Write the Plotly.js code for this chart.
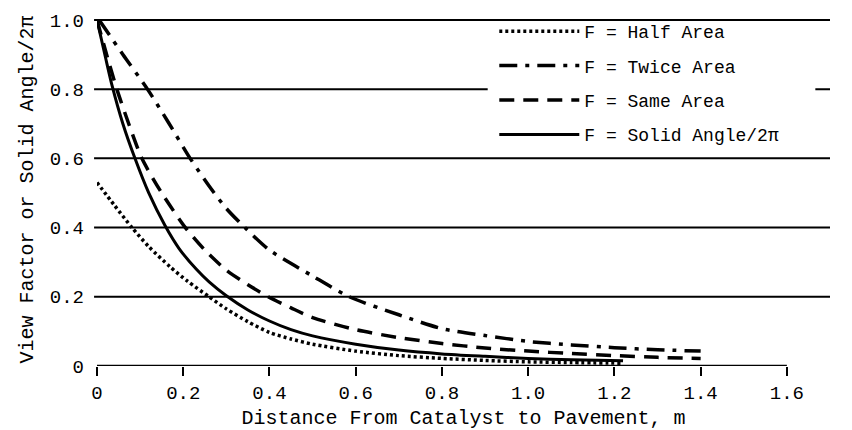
<!DOCTYPE html>
<html><head><meta charset="utf-8">
<script src="https://cdn.plot.ly/plotly-3.0.1.min.js"></script>
<style>html,body{margin:0;padding:0;background:#fff;} #chart{width:852px;height:430px;}</style>
</head><body><div id="chart"></div>
<script>
const seriesNames = ['F = Half Area', 'F = Twice Area', 'F = Same Area', 'F = Solid Angle/2\u03c0'];

const halfX  = [0, 0.04, 0.081, 0.12, 0.17, 0.21, 0.26, 0.30, 0.35, 0.40, 0.45, 0.50, 0.60, 0.70, 0.80, 0.90, 1.00, 1.10, 1.22];
const halfY  = [0.53, 0.465, 0.40, 0.345, 0.286, 0.245, 0.20, 0.165, 0.128, 0.097, 0.078, 0.063, 0.043, 0.03, 0.022, 0.016, 0.012, 0.01, 0.008];

const twiceX = [0.005, 0.06, 0.117, 0.165, 0.216, 0.26, 0.30, 0.343, 0.40, 0.50, 0.585, 0.70, 0.80, 0.90, 1.00, 1.10, 1.20, 1.30, 1.40];
const twiceY = [1.0, 0.9, 0.8, 0.705, 0.6, 0.52, 0.455, 0.4, 0.335, 0.26, 0.2, 0.148, 0.108, 0.088, 0.071, 0.061, 0.053, 0.047, 0.043];

const sameX  = [0, 0.02, 0.046, 0.075, 0.104, 0.15, 0.205, 0.25, 0.30, 0.35, 0.397, 0.45, 0.50, 0.60, 0.70, 0.80, 0.90, 1.00, 1.10, 1.20, 1.30, 1.40];
const sameY  = [1.0, 0.91, 0.8, 0.695, 0.6, 0.5, 0.4, 0.335, 0.277, 0.235, 0.2, 0.168, 0.14, 0.105, 0.082, 0.065, 0.052, 0.043, 0.036, 0.03, 0.025, 0.022];

const solidX = [0, 0.02, 0.035, 0.06, 0.088, 0.12, 0.158, 0.19, 0.23, 0.26, 0.30, 0.35, 0.40, 0.45, 0.50, 0.60, 0.70, 0.80, 0.90, 1.00, 1.10, 1.22];
const solidY = [1.0, 0.89, 0.81, 0.70, 0.6, 0.5, 0.405, 0.34, 0.28, 0.243, 0.203, 0.162, 0.13, 0.105, 0.087, 0.063, 0.046, 0.035, 0.028, 0.022, 0.018, 0.015];

const xTickVals = [0, 0.2, 0.4, 0.6, 0.8, 1.0, 1.2, 1.4, 1.6];
const xTickText = ['0', '0.2', '0.4', '0.6', '0.8', '1.0', '1.2', '1.4', '1.6'];
const yTickVals = [0, 0.2, 0.4, 0.6, 0.8, 1.0];
const yTickText = ['0', '0.2', '0.4', '0.6', '0.8', '1.0'];

const FONT = 'Liberation Mono, DejaVu Sans Mono, monospace';
const styles = [
  {dash: '3px,3px', width: 3.5},
  {dash: '18px,8px,4px,8px', width: 3.5},
  {dash: '15px,9px', width: 3.5},
  {dash: 'solid', width: 3}
];
const xs = [halfX, twiceX, sameX, solidX];
const ys = [halfY, twiceY, sameY, solidY];

const traces = seriesNames.map((n, i) => ({
  type: 'scatter', mode: 'lines', name: n, legendgroup: 'g' + i,
  x: xs[i], y: ys[i],
  line: {color: '#000', width: styles[i].width, dash: styles[i].dash, shape: 'spline', smoothing: 0.7}
}));

// horizontal rules at each y tick (above zero), spanning the full plot width
const shapes = yTickVals.filter(v => v > 0).map(v => ({
  type: 'line', layer: 'below', xref: 'paper', x0: -0.004, x1: 1, yref: 'y', y0: v, y1: v,
  line: {color: '#000', width: 2}
}));
// white panel behind the legend, hiding the rule that passes under it
shapes.push({type: 'rect', layer: 'below', xref: 'paper', x0: 0.533, x1: 0.98, yref: 'y', y0: 0.7, y1: 0.9,
  line: {width: 0}, fillcolor: '#fff'});
// x axis line from first to last tick
shapes.push({type: 'line', layer: 'below', xref: 'x', x0: xTickVals[0], x1: xTickVals[xTickVals.length - 1],
  yref: 'y', y0: 0, y1: 0, line: {color: '#000', width: 2.5}});

const layout = {
  width: 852, height: 430,
  margin: {l: 97, r: 22, t: 13, b: 64},
  paper_bgcolor: '#fff', plot_bgcolor: '#fff',
  font: {family: FONT, color: '#000', size: 19},
  showlegend: true,
  xaxis: {
    range: [0, 1.7], tickvals: xTickVals, ticktext: xTickText,
    ticks: 'outside', ticklen: 9, tickwidth: 2, tickcolor: '#000',
    showgrid: false, zeroline: false, showline: false, automargin: false,
    tickfont: {family: FONT, size: 19, color: '#000'},
    title: {text: 'Distance From Catalyst to Pavement, m', font: {family: FONT, size: 20, color: '#000'}, standoff: 6}
  },
  yaxis: {
    range: [0, 1.02], tickvals: yTickVals, ticktext: yTickText,
    ticks: '', showgrid: false, zeroline: false, showline: false, automargin: false,
    ticklabelstandoff: 12,
    tickfont: {family: FONT, size: 19, color: '#000'},
    title: {text: 'View Factor or Solid Angle/2\u03c0', font: {family: FONT, size: 20, color: '#000'}, standoff: 10}
  },
  legend: {
    x: 0.542, y: 1.0, xanchor: 'left', yanchor: 'top',
    bgcolor: 'rgba(0,0,0,0)', borderwidth: 0, traceorder: 'grouped', tracegroupgap: 8,
    itemwidth: 80,
    font: {family: FONT, size: 18, color: '#000'}
  },
  shapes: shapes
};

Plotly.newPlot('chart', traces, layout, {displayModeBar: false, staticPlot: true});
</script>
</body></html>
